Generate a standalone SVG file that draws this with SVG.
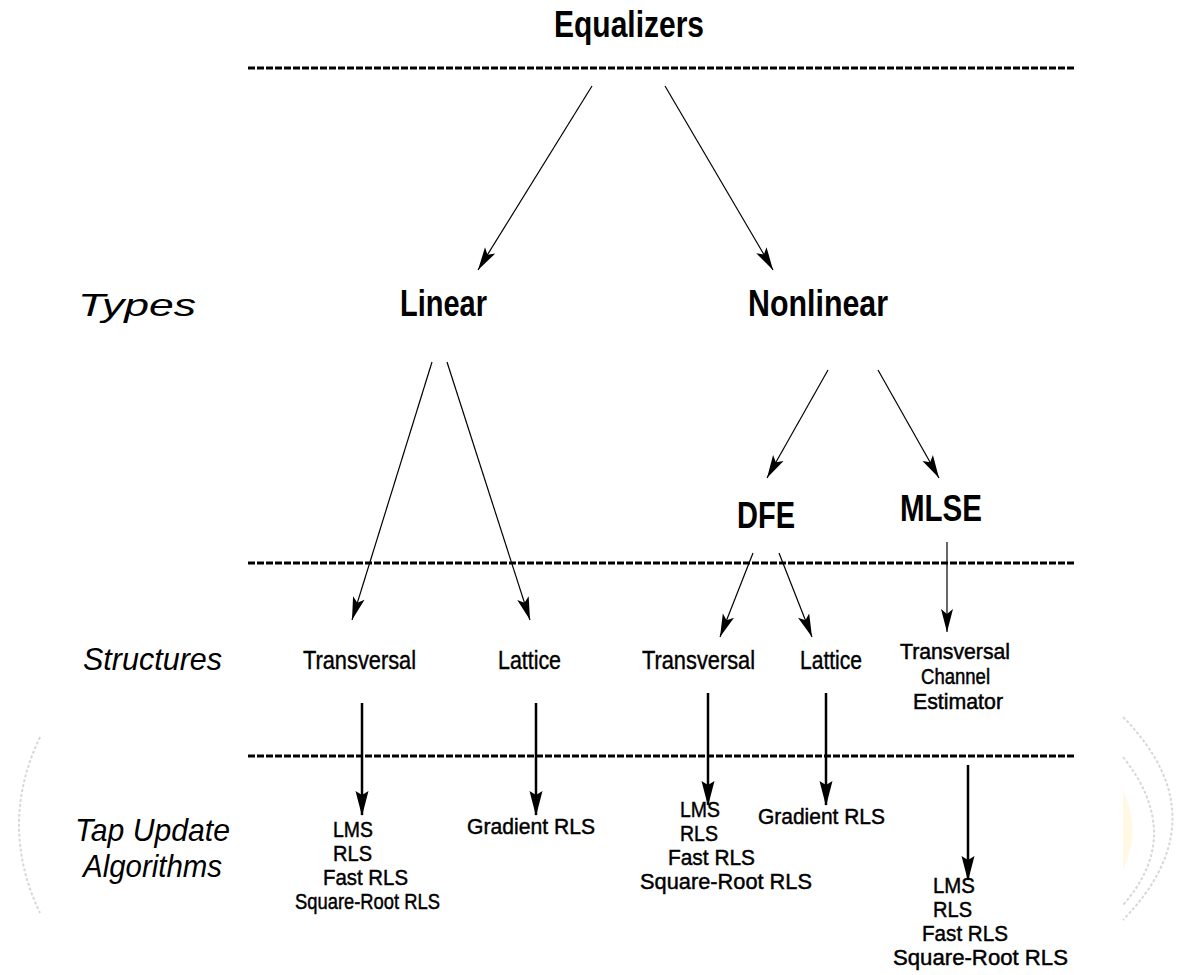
<svg xmlns="http://www.w3.org/2000/svg" width="1187" height="975" viewBox="0 0 1187 975">
<style>
.h{font-family:"Liberation Sans Narrow","Liberation Sans",Arial,sans-serif;font-weight:bold;font-size:37px;fill:#000}
.m{font-family:"Liberation Sans Narrow","Liberation Sans",Arial,sans-serif;font-size:25px;fill:#000;stroke:#000;stroke-width:0.4}
.e{font-family:"Liberation Sans Narrow","Liberation Sans",Arial,sans-serif;font-size:22px;fill:#000;stroke:#000;stroke-width:0.5}
.s{font-family:"Liberation Sans Narrow","Liberation Sans",Arial,sans-serif;font-size:22px;fill:#000;stroke:#000;stroke-width:0.45}
.l{font-family:"Liberation Sans",Arial,sans-serif;font-style:italic;font-size:32px;fill:#000}
.dash{stroke:#000;stroke-width:3;stroke-dasharray:7 2;fill:none}
.thin{stroke:#000;stroke-width:1.2;fill:none}
.thick{stroke:#000;stroke-width:2.5;fill:none}
.wm{stroke:#d8d8d8;stroke-width:2;stroke-dasharray:3 2;fill:none}
</style>
<defs>
<marker id="ah" markerUnits="userSpaceOnUse" markerWidth="30" markerHeight="16" viewBox="-24 -8 26 16" refX="0" refY="0" orient="auto">
<path d="M0,0 L-23,-6 L-18,0 L-23,6 Z" fill="#000"/>
</marker>
<marker id="ahv" markerUnits="userSpaceOnUse" markerWidth="30" markerHeight="18" viewBox="-26 -9 28 18" refX="0" refY="0" orient="auto">
<path d="M1,0 L-24,-6.5 L-20,0 L-24,6.5 Z" fill="#000"/>
</marker>
</defs>
<rect width="1187" height="975" fill="#fff"/>
<g id="watermark">
<path class="wm" d="M40 737 Q-2 825 40 913"/>
<path d="M1123 790 Q1142 830 1123 870 Z" fill="#fff6d8" opacity="0.7"/>
<path class="wm" d="M1123 717 Q1222 818 1123 920"/>
<path class="wm" d="M1123 757 Q1185 835 1123 905"/>
</g>
<g id="separators">
<line class="dash" x1="248" y1="68" x2="1075" y2="68"/>
<line class="dash" x1="248" y1="563" x2="1075" y2="563"/>
<line class="dash" x1="248" y1="756" x2="1075" y2="756"/>
</g>
<g id="level-labels">
<text class="l" x="78" y="316" textLength="118" lengthAdjust="spacingAndGlyphs">Types</text>
<text class="l" x="83" y="670" textLength="139" lengthAdjust="spacingAndGlyphs">Structures</text>
<text class="l" x="75" y="841" textLength="155" lengthAdjust="spacingAndGlyphs">Tap Update</text>
<text class="l" x="83" y="877" textLength="139" lengthAdjust="spacingAndGlyphs">Algorithms</text>
</g>
<g id="equalizers"><text class="h" x="554" y="37" textLength="150" lengthAdjust="spacingAndGlyphs">Equalizers</text></g>
<g id="linear"><text class="h" x="400" y="316" textLength="87" lengthAdjust="spacingAndGlyphs">Linear</text></g>
<g id="nonlinear"><text class="h" x="748" y="316" textLength="140" lengthAdjust="spacingAndGlyphs">Nonlinear</text></g>
<g id="dfe"><text class="h" x="737" y="528" textLength="58" lengthAdjust="spacingAndGlyphs">DFE</text></g>
<g id="mlse"><text class="h" x="900" y="521" textLength="82" lengthAdjust="spacingAndGlyphs">MLSE</text></g>
<g id="lin-transversal"><text class="m" x="303" y="669" textLength="113" lengthAdjust="spacingAndGlyphs">Transversal</text></g>
<g id="lin-lattice"><text class="m" x="498" y="669" textLength="63" lengthAdjust="spacingAndGlyphs">Lattice</text></g>
<g id="dfe-transversal"><text class="m" x="642" y="669" textLength="113" lengthAdjust="spacingAndGlyphs">Transversal</text></g>
<g id="dfe-lattice"><text class="m" x="800" y="669" textLength="62" lengthAdjust="spacingAndGlyphs">Lattice</text></g>
<g id="mlse-estimator">
<text class="e" x="900" y="659" textLength="110" lengthAdjust="spacingAndGlyphs">Transversal</text>
<text class="e" x="921" y="684" textLength="69" lengthAdjust="spacingAndGlyphs">Channel</text>
<text class="e" x="913" y="709" textLength="90" lengthAdjust="spacingAndGlyphs">Estimator</text>
</g>
<g id="lin-transversal-algs">
<text class="s" x="333" y="837" textLength="40" lengthAdjust="spacingAndGlyphs">LMS</text>
<text class="s" x="333" y="861" textLength="39" lengthAdjust="spacingAndGlyphs">RLS</text>
<text class="s" x="323" y="885" textLength="85" lengthAdjust="spacingAndGlyphs">Fast RLS</text>
<text class="s" x="295" y="909" textLength="145" lengthAdjust="spacingAndGlyphs">Square-Root RLS</text>
</g>
<g id="lin-lattice-algs"><text class="s" x="467" y="834" textLength="128" lengthAdjust="spacingAndGlyphs">Gradient RLS</text></g>
<g id="dfe-transversal-algs">
<text class="s" x="680" y="817" textLength="40" lengthAdjust="spacingAndGlyphs">LMS</text>
<text class="s" x="680" y="841" textLength="38" lengthAdjust="spacingAndGlyphs">RLS</text>
<text class="s" x="668" y="865" textLength="87" lengthAdjust="spacingAndGlyphs">Fast RLS</text>
<text class="s" x="640" y="889" textLength="172" lengthAdjust="spacingAndGlyphs">Square-Root RLS</text>
</g>
<g id="dfe-lattice-algs"><text class="s" x="758" y="824" textLength="127" lengthAdjust="spacingAndGlyphs">Gradient RLS</text></g>
<g id="mlse-algs">
<text class="s" x="933" y="893" textLength="42" lengthAdjust="spacingAndGlyphs">LMS</text>
<text class="s" x="933" y="917" textLength="39" lengthAdjust="spacingAndGlyphs">RLS</text>
<text class="s" x="922" y="941" textLength="86" lengthAdjust="spacingAndGlyphs">Fast RLS</text>
<text class="s" x="893" y="965" textLength="175" lengthAdjust="spacingAndGlyphs">Square-Root RLS</text>
</g>
<g id="connectors">
<line class="thin" x1="592" y1="86" x2="478" y2="270" marker-end="url(#ah)"/>
<line class="thin" x1="665" y1="86" x2="773" y2="270" marker-end="url(#ah)"/>
<line class="thin" x1="432" y1="362" x2="352" y2="620" marker-end="url(#ah)"/>
<line class="thin" x1="447" y1="362" x2="530" y2="620" marker-end="url(#ah)"/>
<line class="thin" x1="828" y1="370" x2="767" y2="478" marker-end="url(#ah)"/>
<line class="thin" x1="878" y1="370" x2="939" y2="478" marker-end="url(#ah)"/>
<line class="thin" x1="753" y1="553" x2="720" y2="637" marker-end="url(#ah)"/>
<line class="thin" x1="779" y1="553" x2="812" y2="637" marker-end="url(#ah)"/>
<line class="thin" x1="947" y1="542" x2="947" y2="632" marker-end="url(#ah)"/>
<line class="thick" x1="362" y1="703" x2="362" y2="815" marker-end="url(#ahv)"/>
<line class="thick" x1="536" y1="703" x2="536" y2="815" marker-end="url(#ahv)"/>
<line class="thick" x1="708" y1="693" x2="708" y2="805" marker-end="url(#ahv)"/>
<line class="thick" x1="826" y1="693" x2="826" y2="805" marker-end="url(#ahv)"/>
<line class="thick" x1="968" y1="765" x2="968" y2="880" marker-end="url(#ahv)"/>
</g>
</svg>
